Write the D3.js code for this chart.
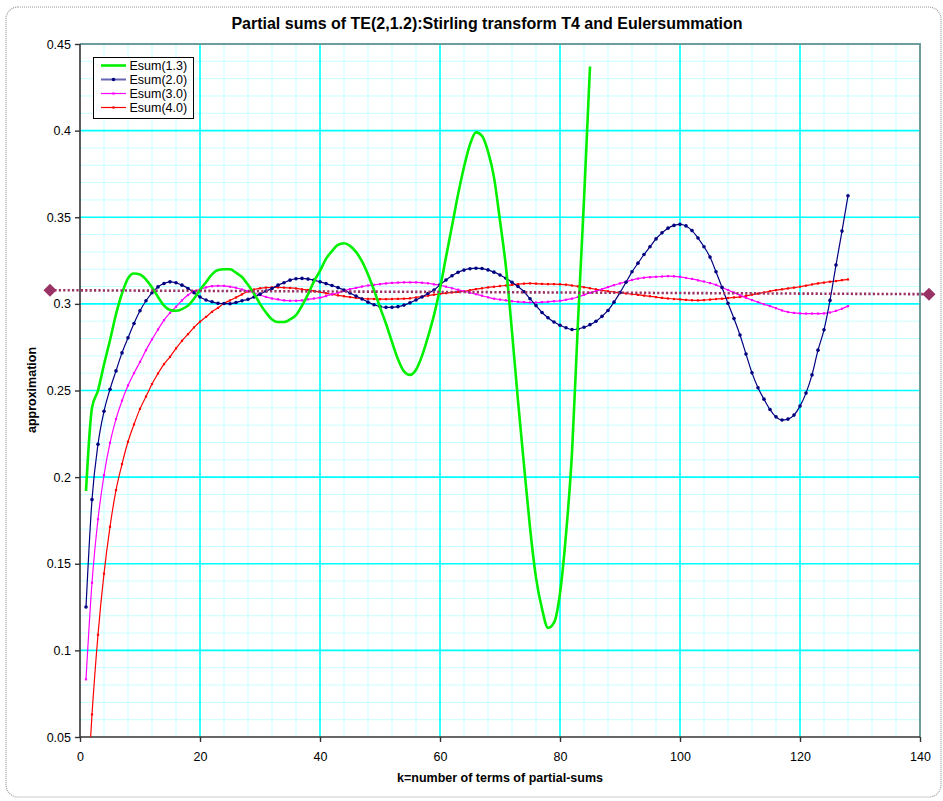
<!DOCTYPE html>
<html>
<head>
<meta charset="utf-8">
<style>
  body { margin: 0; background: #fff; }
  svg text { font-family: "Liberation Sans", Arial, sans-serif; fill: #000; }
</style>
<script src="https://d3js.org/d3.v7.min.js"></script>
</head>
<body>
<svg id="chart" width="943" height="801"></svg>
<script>
// values per k = 1, 2, 3, ...
const esum13 = [0.192, 0.240, 0.250, 0.265, 0.279, 0.294, 0.306, 0.3147, 0.3175, 0.317,
  0.314, 0.3095, 0.304, 0.299, 0.2965, 0.296, 0.297, 0.299, 0.303, 0.308,
  0.3125, 0.317, 0.3195, 0.320, 0.320, 0.318, 0.3155, 0.311, 0.306, 0.300,
  0.295, 0.291, 0.2895, 0.2895, 0.291, 0.2935, 0.299, 0.3055, 0.313, 0.319,
  0.326, 0.3305, 0.334, 0.335, 0.3335, 0.330, 0.3245, 0.317, 0.308, 0.298,
  0.2885, 0.278, 0.268, 0.261, 0.259, 0.262, 0.270, 0.281, 0.2935, 0.309,
  0.327, 0.345, 0.363, 0.379, 0.392, 0.399, 0.397, 0.388, 0.373, 0.348,
  0.321, 0.284, 0.244, 0.207, 0.171, 0.142, 0.124, 0.113, 0.116, 0.133,
  0.167, 0.214, 0.290, 0.360, 0.437];

const esum20 = [0.125, 0.187, 0.219, 0.238, 0.2507, 0.2613, 0.2717, 0.2804, 0.2887, 0.296,
  0.3018, 0.3064, 0.3098, 0.3118, 0.3127, 0.3122, 0.3108, 0.3089, 0.3064, 0.304,
  0.3022, 0.3012, 0.3003, 0.3002, 0.3001, 0.3008, 0.3018, 0.3026, 0.304, 0.3056,
  0.3074, 0.3089, 0.3108, 0.3122, 0.3137, 0.3145, 0.3147, 0.3143, 0.3137, 0.3127,
  0.3117, 0.3106, 0.3094, 0.3080, 0.3063, 0.3045, 0.3028, 0.3010, 0.2995, 0.2985,
  0.2980, 0.2980, 0.2984, 0.2993, 0.3006, 0.3022, 0.3040, 0.3060, 0.3080, 0.3110,
  0.3138, 0.3162, 0.3182, 0.3195, 0.3203, 0.3206, 0.3204, 0.3196, 0.3183, 0.3167,
  0.3148, 0.3125, 0.3100, 0.3070, 0.3030, 0.2990, 0.2950, 0.2920, 0.2895, 0.2877,
  0.2862, 0.2852, 0.2855, 0.2865, 0.2880, 0.2900, 0.2928, 0.2962, 0.3010, 0.3065,
  0.3125, 0.3185, 0.3235, 0.3285, 0.3330, 0.3375, 0.3410, 0.3437, 0.3453, 0.3459,
  0.3450, 0.3423, 0.3380, 0.3330, 0.3270, 0.3185, 0.3095, 0.3003, 0.2915, 0.2820,
  0.2710, 0.2602, 0.2516, 0.2450, 0.2390, 0.2348, 0.2330, 0.2335, 0.2358, 0.2410,
  0.2485, 0.2590, 0.2733, 0.2850, 0.3020, 0.3224, 0.3420, 0.3624];

const esum30 = [0.0833, 0.139, 0.1757, 0.2011, 0.2198, 0.2335, 0.2441, 0.2529, 0.260, 0.2665,
  0.2733, 0.2795, 0.2852, 0.2906, 0.2948, 0.2983, 0.302, 0.3051, 0.3074, 0.3083,
  0.3095, 0.3102, 0.3104, 0.3104, 0.3099, 0.3093, 0.3083, 0.3074, 0.3064, 0.3051,
  0.3040, 0.3031, 0.3026, 0.3020, 0.3018, 0.3018, 0.3020, 0.3026, 0.3031, 0.3036,
  0.3045, 0.3056, 0.3064, 0.3075, 0.3085, 0.3092, 0.3100, 0.3106, 0.3110, 0.3114,
  0.3118, 0.3121, 0.3123, 0.3124, 0.3124, 0.3124, 0.3122, 0.3119, 0.3113, 0.3108,
  0.3099, 0.3090, 0.3082, 0.3073, 0.3064, 0.3056, 0.3047, 0.3038, 0.3030, 0.3025,
  0.3020, 0.3015, 0.3012, 0.3010, 0.3008, 0.3008, 0.3010, 0.3012, 0.3015, 0.3018,
  0.3024, 0.3030, 0.3040, 0.3052, 0.3064, 0.3074, 0.3085, 0.3097, 0.3108, 0.3118,
  0.3128, 0.3138, 0.3146, 0.3151, 0.3154, 0.3156, 0.3158, 0.3160, 0.3159, 0.3156,
  0.3150, 0.3144, 0.3136, 0.3129, 0.3120, 0.3110, 0.3095, 0.3080, 0.3065, 0.3050,
  0.3035, 0.3022, 0.3010, 0.2998, 0.2987, 0.2975, 0.2962, 0.2953, 0.2948, 0.2945,
  0.2944, 0.2944, 0.2944, 0.2945, 0.2950, 0.2960, 0.2972, 0.2987];

const esum40 = [0.005, 0.063, 0.109, 0.1443, 0.1713, 0.1925, 0.2075, 0.2204, 0.2304, 0.2394,
  0.2465, 0.2537, 0.2598, 0.2652, 0.2694, 0.2743, 0.2787, 0.2825, 0.2864, 0.2897,
  0.2925, 0.2954, 0.2977, 0.3003, 0.3020, 0.3037, 0.3055, 0.3072, 0.3083, 0.3090,
  0.3094, 0.3095, 0.3095, 0.3094, 0.3092, 0.3089, 0.3084, 0.3080, 0.3074, 0.3068,
  0.3061, 0.3055, 0.3049, 0.3044, 0.3039, 0.3035, 0.3031, 0.3029, 0.3028, 0.3027,
  0.3027, 0.3028, 0.3029, 0.3030, 0.3032, 0.3037, 0.3042, 0.3047, 0.3053, 0.3058,
  0.3062, 0.3066, 0.3069, 0.3073, 0.3079, 0.3085, 0.3090, 0.3095, 0.3099, 0.3103,
  0.3106, 0.3110, 0.3114, 0.3117, 0.3118, 0.3117, 0.3115, 0.3114, 0.3114, 0.3113,
  0.3111, 0.3106, 0.3101, 0.3096, 0.3090, 0.3084, 0.3078, 0.3073, 0.3068, 0.3064,
  0.3060, 0.3056, 0.3052, 0.3048, 0.3044, 0.3039, 0.3035, 0.3031, 0.3028, 0.3026,
  0.3023, 0.3021, 0.3020, 0.3022, 0.3025, 0.3028, 0.3030, 0.3034, 0.3037, 0.3040,
  0.3046, 0.3053, 0.3059, 0.3066, 0.3073, 0.3079, 0.3084, 0.3089, 0.3094, 0.3099,
  0.3105, 0.3112, 0.3118, 0.3123, 0.3128, 0.3132, 0.3137, 0.3141];

// dotted reference line (two end points, drawn with diamonds)
const refK = [-5, 141.5];
const refV = [0.3079, 0.3056];

const seriesNames = ["Esum(1.3)", "Esum(2.0)", "Esum(3.0)", "Esum(4.0)"];
const xTicks = [0, 20, 40, 60, 80, 100, 120, 140];
const yTicks = [0.05, 0.1, 0.15, 0.2, 0.25, 0.3, 0.35, 0.4, 0.45];

const titleText = "Partial sums of TE(2,1.2):Stirling transform T4 and Eulersummation";
const xLabel = "k=number of terms of partial-sums";
const yLabel = "approximation";

const svg = d3.select("#chart");
const pLeft = 80, pRight = 920, pTop = 44, pBottom = 737;

const x = d3.scaleLinear().domain([0, 140]).range([pLeft, pRight]);
const y = d3.scaleLinear().domain([0.05, 0.45]).range([pBottom, pTop]);

// outer chart border
svg.append("rect")
  .attr("x", 6).attr("y", 7).attr("width", 935).attr("height", 790)
  .attr("rx", 12)
  .attr("fill", "#fff")
  .attr("stroke", "#999").attr("stroke-width", 1.2).attr("stroke-dasharray", "1,1");

// title
svg.append("text")
  .attr("x", 487).attr("y", 29)
  .attr("text-anchor", "middle")
  .style("font-size", "16px").style("font-weight", "bold")
  .text(titleText);

// grid
const grid = svg.append("g");
grid.selectAll(".vmin").data(d3.range(4, 140, 4))
  .enter().append("line")
  .attr("x1", d => x(d)).attr("x2", d => x(d))
  .attr("y1", pTop).attr("y2", pBottom)
  .attr("stroke", "#c8ffff").attr("stroke-width", 1);
grid.selectAll(".hmin").data(d3.range(6, 45).map(d => d / 100))
  .enter().append("line")
  .attr("x1", pLeft).attr("x2", pRight)
  .attr("y1", d => y(d)).attr("y2", d => y(d))
  .attr("stroke", "#c8ffff").attr("stroke-width", 1);
grid.selectAll(".vmaj").data(xTicks.slice(1, -1))
  .enter().append("line")
  .attr("x1", d => x(d)).attr("x2", d => x(d))
  .attr("y1", pTop).attr("y2", pBottom)
  .attr("stroke", "#00ffff").attr("stroke-width", 1.6);
grid.selectAll(".hmaj").data(yTicks.slice(1))
  .enter().append("line")
  .attr("x1", pLeft).attr("x2", pRight)
  .attr("y1", d => y(d)).attr("y2", d => y(d))
  .attr("stroke", "#00ffff").attr("stroke-width", 1.6);

// top / right border of plot area
svg.append("path")
  .attr("d", `M${pLeft},${pTop}H${pRight}V${pBottom}`)
  .attr("fill", "none").attr("stroke", "#6c9c9c").attr("stroke-width", 2);

// axes
const fmt = d => String(+d.toFixed(2));
const yAxis = svg.append("g")
  .attr("transform", `translate(${pLeft},0)`)
  .call(d3.axisLeft(y).tickValues(yTicks).tickFormat(fmt).tickSize(5).tickPadding(4));
const xAxis = svg.append("g")
  .attr("transform", `translate(0,${pBottom})`)
  .call(d3.axisBottom(x).tickValues(xTicks).tickSize(5).tickPadding(10));
[yAxis, xAxis].forEach(a => {
  a.select(".domain").attr("stroke", "#333").attr("stroke-width", 1.6);
  a.selectAll(".tick line").attr("stroke", "#333").attr("stroke-width", 1.4);
  a.selectAll("text").style("font-size", "12.5px").style("font-family", "\"Liberation Sans\", Arial, sans-serif").attr("fill", "#111");
});
yAxis.select(".domain").attr("d", `M0,${pTop}V${pBottom}`);
xAxis.select(".domain").attr("d", `M${pLeft},0H${pRight}`);

// axis titles
svg.append("text")
  .attr("x", 500).attr("y", 782)
  .attr("text-anchor", "middle")
  .style("font-size", "12.5px").style("font-weight", "bold")
  .text(xLabel);
svg.append("text")
  .attr("transform", "translate(36,390) rotate(-90)")
  .attr("text-anchor", "middle")
  .style("font-size", "12.5px").style("font-weight", "bold")
  .text(yLabel);

// clip for series
svg.append("clipPath").attr("id", "plotclip")
  .append("rect").attr("x", pLeft).attr("y", pTop)
  .attr("width", pRight - pLeft).attr("height", pBottom - pTop);

const line = d3.line().x((d, i) => x(i + 1)).y(d => y(d)).curve(d3.curveMonotoneX);

const series = [
  { name: seriesNames[0], values: esum13, color: "#00f000", width: 2.6, marker: null },
  { name: seriesNames[1], values: esum20, color: "#000080", width: 1.2, marker: "circle" },
  { name: seriesNames[2], values: esum30, color: "#ff00ff", width: 1.2, marker: "square" },
  { name: seriesNames[3], values: esum40, color: "#ff0000", width: 1.2, marker: "square" }
];

const plot = svg.append("g").attr("clip-path", "url(#plotclip)");

// reference dotted line
const refPts = refK.map((k, i) => [x(k), y(refV[i])]);
svg.append("path")
  .attr("d", d3.line()(refPts))
  .attr("fill", "none").attr("stroke", "#993366")
  .attr("stroke-width", 2.6).attr("stroke-dasharray", "2.2,2.2");
svg.selectAll(".refdiamond").data(refPts)
  .enter().append("path")
  .attr("transform", d => `translate(${d[0]},${d[1]})`)
  .attr("d", "M0,-6.5L6.5,0L0,6.5L-6.5,0Z")
  .attr("fill", "#993366");

// draw series from last to first so green is on top
series.slice().reverse().forEach(s => {
  plot.append("path")
    .attr("d", line(s.values))
    .attr("fill", "none")
    .attr("stroke", s.color)
    .attr("stroke-width", s.width)
    .attr("stroke-linejoin", "round");
  if (s.marker === "circle") {
    plot.selectAll(null).data(s.values).enter().append("circle")
      .attr("cx", (d, i) => x(i + 1)).attr("cy", d => y(d))
      .attr("r", 1.8).attr("fill", s.color);
  } else if (s.marker === "square") {
    plot.selectAll(null).data(s.values).enter().append("rect")
      .attr("x", (d, i) => x(i + 1) - 1.1).attr("y", d => y(d) - 1.1)
      .attr("width", 2.2).attr("height", 2.2).attr("fill", s.color);
  }
});

// legend
const lg = svg.append("g");
lg.append("rect")
  .attr("x", 93.5).attr("y", 57.5).attr("width", 100).attr("height", 61)
  .attr("fill", "#fff").attr("stroke", "#000").attr("stroke-width", 1);
series.forEach((s, i) => {
  const ly = 65.5 + i * 14;
  lg.append("line")
    .attr("x1", 101).attr("x2", 126).attr("y1", ly).attr("y2", ly)
    .attr("stroke", s.color).attr("stroke-width", i === 1 ? 2 : s.width)
    .attr("stroke-opacity", i === 1 ? 0.6 : 1);
  if (s.marker === "circle") {
    lg.append("circle").attr("cx", 113.5).attr("cy", ly).attr("r", 1.8).attr("fill", s.color);
  } else if (s.marker === "square") {
    lg.append("rect").attr("x", 112.4).attr("y", ly - 1.1).attr("width", 2.2).attr("height", 2.2).attr("fill", s.color);
  }
  lg.append("text")
    .attr("x", 129.5).attr("y", ly + 4.5)
    .style("font-size", "12.5px")
    .text(s.name);
});
</script>
</body>
</html>
